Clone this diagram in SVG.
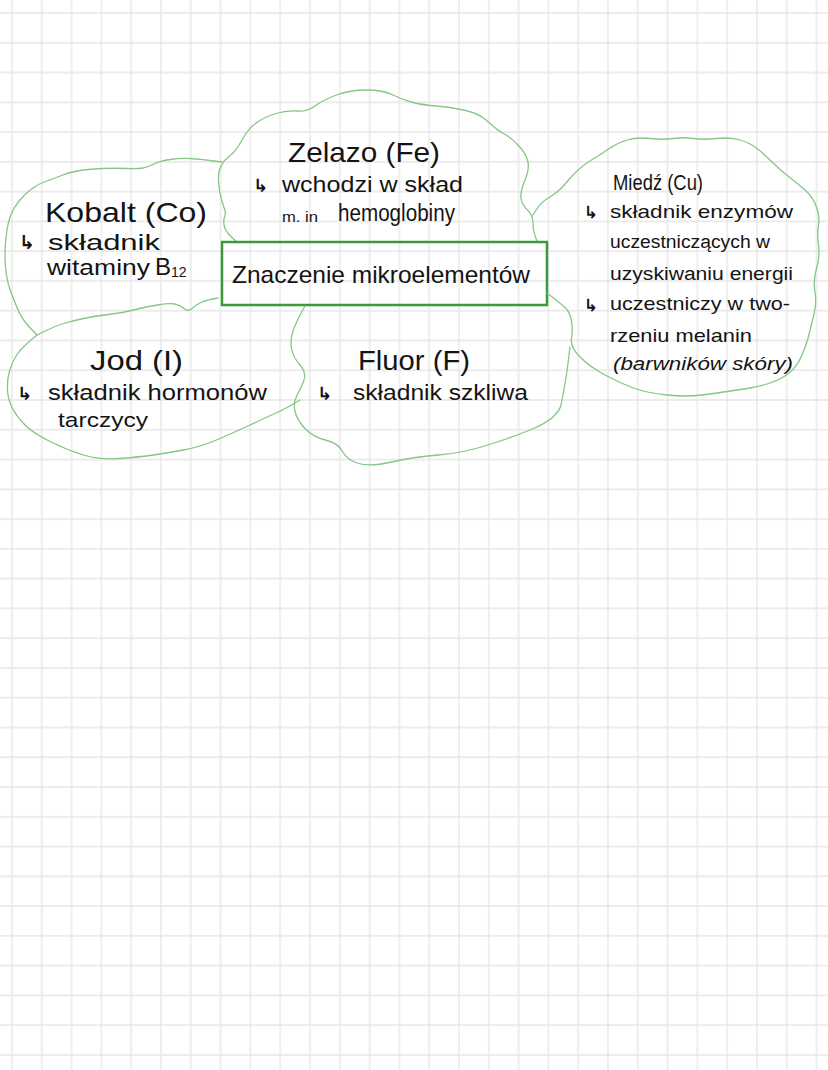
<svg xmlns="http://www.w3.org/2000/svg" width="828" height="1070" viewBox="0 0 828 1070">
<defs>
<pattern id="grid" x="-2.9" y="-1.885" width="29.8" height="29.77" patternUnits="userSpaceOnUse">
<path d="M14.9,0 V29.77 M0,14.885 H29.8" fill="none" stroke="#e6e6e6" stroke-width="1.3"/>
</pattern>
<style>
.t{font-family:"Liberation Sans","DejaVu Sans",sans-serif;fill:#141414;}
.it{font-style:italic;}
.arr{font-family:"DejaVu Sans",sans-serif;fill:#141414;font-weight:bold;}
.cloud{fill:none;stroke:#86c686;stroke-width:1.3;stroke-linecap:round;stroke-linejoin:round;}
.box{fill:none;stroke:#3a9a3a;stroke-width:2.5;}
</style>
</defs>
<rect width="828" height="1070" fill="#ffffff"/>
<rect width="828" height="1070" fill="url(#grid)"/>

<g id="connectors"></g>

<g id="kobalt">
<path class="cloud" d="M222,162 Q200,159 190,158.5 Q180,158 170,159.5 Q160,161 154,164 Q148,167 143,168 Q138,169 126.5,168.5 Q115,168 102.5,168.5 Q90,169 80,170.5 Q70,172 61.5,175.5 Q53,179 45.5,181.5 Q38,184 31.5,189 Q25,194 19.5,200.5 Q14,207 11,214.5 Q8,222 6.5,233.5 Q5,245 5,255 Q5,265 6.5,275 Q8,285 11,292.5 Q14,300 17,307.5 Q20,315 24,320.5 Q28,326 37,335"/>
<path class="cloud" d="M37,335 Q55,326 63.5,323.5 Q72,321 83.5,318.5 Q95,316 108.5,314.5 Q122,313 133.5,310 Q145,307 157.5,305 Q170,303 175,304 Q180,305 184,308.5 Q188,312 192,308.5 Q196,305 201,302.5 Q206,300 218,298"/>
<text class="t" x="45" y="222" font-size="28" textLength="162" lengthAdjust="spacingAndGlyphs">Kobalt (Co)</text>
<text class="arr" x="19" y="249" font-size="19">↳</text>
<text class="t" x="48" y="250" font-size="22" textLength="112" lengthAdjust="spacingAndGlyphs">składnik</text>
<text class="t" x="47" y="275" font-size="22" textLength="103" lengthAdjust="spacingAndGlyphs">witaminy</text>
<text class="t" x="155" y="275" font-size="24">B<tspan font-size="14" dy="2">12</tspan></text>
</g>

<g id="zelazo">
<path class="cloud" d="M236,241 Q226,233 224.5,227 Q223,221 224.5,217 Q226,213 224.5,209 Q223,205 221,197.5 Q219,190 218.5,181 Q218,172 221,166 Q224,160 229.5,156 Q235,152 238.5,146 Q242,140 246,133.5 Q250,127 257.5,122 Q265,117 276,113.5 Q287,110 297,111 Q307,112 315,106 Q323,100 336.5,95 Q350,90 366.5,90 Q383,90 393,95 Q403,100 413,102.5 Q423,105 436.5,106 Q450,107 463.5,110 Q477,113 483.5,118 Q490,123 493.5,126.5 Q497,130 503.5,133.5 Q510,137 517.5,144.5 Q525,152 527.5,160 Q530,168 525,180 Q520,192 521,198.5 Q522,205 527.5,210 Q533,215 533,223.5 Q533,232 537,241"/>
<text class="t" x="288" y="162" font-size="28" textLength="152" lengthAdjust="spacingAndGlyphs">Zelazo (Fe)</text>
<text class="arr" x="253" y="192" font-size="18">↳</text>
<text class="t" x="282" y="192" font-size="22" textLength="181" lengthAdjust="spacingAndGlyphs">wchodzi w skład</text>
<text class="t" x="282" y="222" font-size="15" textLength="36" lengthAdjust="spacingAndGlyphs">m. in</text>
<text class="t" x="338" y="221" font-size="23" textLength="117" lengthAdjust="spacingAndGlyphs">hemoglobiny</text>
</g>

<g id="center">
<rect class="box" x="222" y="242" width="325" height="63"/>
<text class="t" x="232" y="283" font-size="24" textLength="298" lengthAdjust="spacingAndGlyphs">Znaczenie mikroelementów</text>
</g>

<g id="miedz">
<path class="cloud" d="M533,215 Q540,203 546,199.5 Q552,196 557,192 Q562,188 566,183 Q570,178 576.5,171.5 Q583,165 591.5,160 Q600,155 608.5,149 Q617,143 627,140 Q637,137 650,138.5 Q663,140 673,138.5 Q683,137 693,138.5 Q703,140 716.5,138.5 Q730,137 740,140 Q750,143 756.5,148 Q763,153 771.5,161.5 Q780,170 788.5,176.5 Q797,183 805,190 Q813,197 816.5,207 Q820,217 818.5,225 Q817,233 818.5,245 Q820,257 816.5,268.5 Q813,280 815,291.5 Q817,303 813.5,316.5 Q810,330 808.5,336.5 Q807,343 802,355 Q797,367 788.5,373.5 Q780,380 768.5,383.5 Q757,387 747,388.5 Q737,390 727,391.5 Q717,393 702,395 Q687,397 667,395 Q647,393 633.5,388 Q620,383 605,375 Q590,367 580,357 Q570,347 571.5,338.5 Q573,330 571.5,321 Q570,312 565,307.5 Q560,303 547,293"/>
<text class="t" x="613" y="190" font-size="22" textLength="90" lengthAdjust="spacingAndGlyphs">Miedź (Cu)</text>
<text class="arr" x="584" y="218" font-size="17">↳</text>
<text class="t" x="610" y="218" font-size="19" textLength="183" lengthAdjust="spacingAndGlyphs">składnik enzymów</text>
<text class="t" x="610" y="248" font-size="18" textLength="160" lengthAdjust="spacingAndGlyphs">uczestniczących w</text>
<text class="t" x="610" y="280" font-size="18" textLength="183" lengthAdjust="spacingAndGlyphs">uzyskiwaniu energii</text>
<text class="arr" x="584" y="311" font-size="17">↳</text>
<text class="t" x="610" y="310" font-size="19" textLength="180" lengthAdjust="spacingAndGlyphs">uczestniczy w two-</text>
<text class="t" x="610" y="342" font-size="19" textLength="142" lengthAdjust="spacingAndGlyphs">rzeniu melanin</text>
<text class="t it" x="613" y="370" font-size="19" textLength="180" lengthAdjust="spacingAndGlyphs">(barwników skóry)</text>
</g>

<g id="jod">
<path class="cloud" d="M37,335 Q22,347 17,354.5 Q12,362 9.5,371 Q7,380 7.5,390 Q8,400 12.5,408.5 Q17,417 25,425 Q33,433 50,441.5 Q67,450 83.5,455 Q100,460 120,458.5 Q140,457 153.5,455 Q167,453 183.5,450 Q200,447 216.5,440 Q233,433 250,425 Q267,417 277,412.5 Q287,408 300,400"/>
<text class="t" x="90" y="370" font-size="28" textLength="93" lengthAdjust="spacingAndGlyphs">Jod (I)</text>
<text class="arr" x="17" y="400" font-size="18">↳</text>
<text class="t" x="48" y="400" font-size="22" textLength="219" lengthAdjust="spacingAndGlyphs">składnik hormonów</text>
<text class="t" x="58" y="427" font-size="21" textLength="90" lengthAdjust="spacingAndGlyphs">tarczycy</text>
</g>

<g id="fluor">
<path class="cloud" d="M305,306 Q296,322 293,331 Q290,340 291.5,348.5 Q293,357 300,365 Q307,373 303.5,381.5 Q300,390 296.5,396.5 Q293,403 295,411.5 Q297,420 305,428.5 Q313,437 325.5,440 Q338,443 342.5,451.5 Q347,460 358.5,463.5 Q370,467 391.5,462 Q413,457 438,455 Q463,453 488,445 Q513,437 530,430 Q547,423 553.5,416.5 Q560,410 561,405 Q562,400 564.5,386.5 Q567,373 570,347"/>
<text class="t" x="358" y="370" font-size="28" textLength="112" lengthAdjust="spacingAndGlyphs">Fluor (F)</text>
<text class="arr" x="317" y="400" font-size="18">↳</text>
<text class="t" x="353" y="400" font-size="22" textLength="175" lengthAdjust="spacingAndGlyphs">składnik szkliwa</text>
</g>
</svg>
